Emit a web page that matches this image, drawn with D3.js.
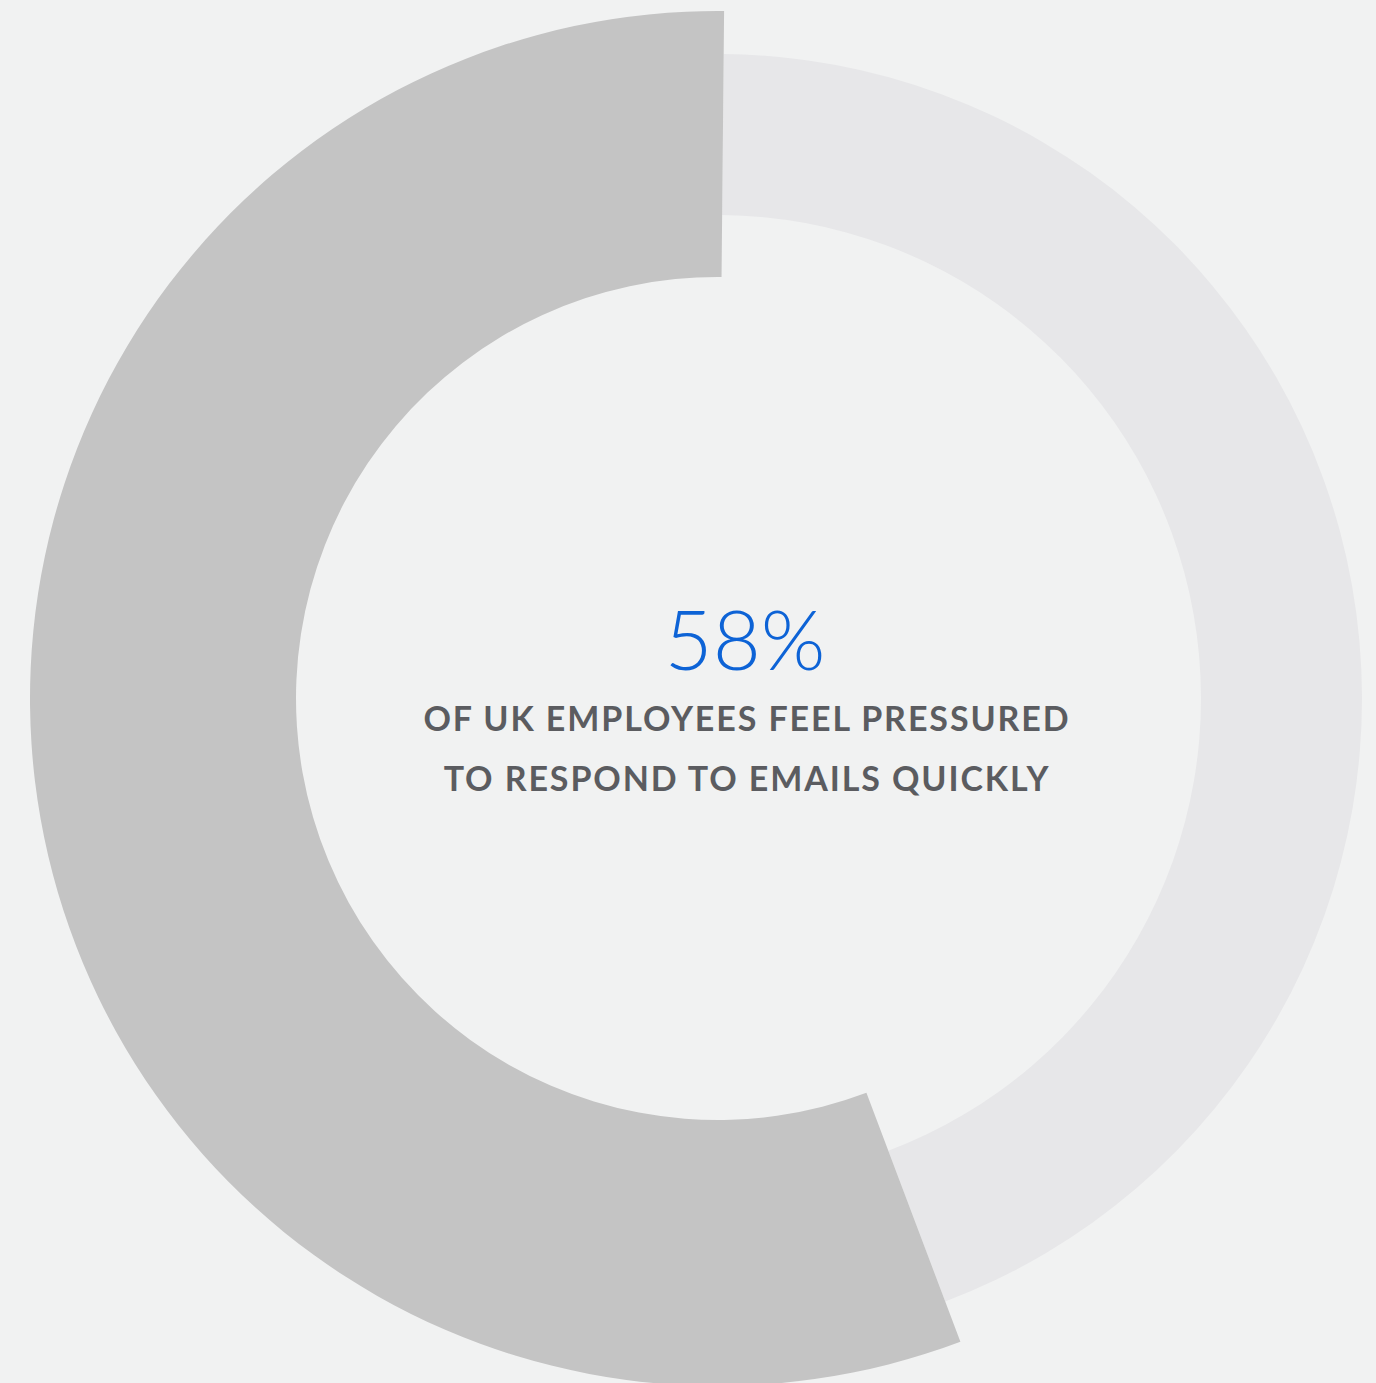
<!DOCTYPE html>
<html>
<head>
<meta charset="utf-8">
<script src="https://cdn.jsdelivr.net/npm/d3@7"></script>
<style>
  html, body { margin: 0; padding: 0; background: #f1f2f2; }
  svg { display: block; }
</style>
</head>
<body>
<script>
// ---- data ----
const categories = ["Do not feel pressured", "Feel pressured"];
const arcShares = [44.1, 55.9];          // shares of the ring as drawn in the picture
const headline = "58%";
const captionLines = ["OF UK EMPLOYEES FEEL PRESSURED", "TO RESPOND TO EMAILS QUICKLY"];

// ---- layout ----
const W = 1376, H = 1383;
const cx = 717.5, cy = 698.5;
const ringStyle = {
  "Do not feel pressured": { inner: 483.5, outer: 644.5, fill: "#e7e7e9" },
  "Feel pressured":        { inner: 421.5, outer: 687.5, fill: "#c4c4c4" }
};
const rot = 0.55 * Math.PI / 180;

const svg = d3.select("body").append("svg")
  .attr("width", W).attr("height", H);

svg.append("rect").attr("width", W).attr("height", H).attr("fill", "#f1f2f2");

const pie = d3.pie().sort(null).value(d => d.v)
  .startAngle(rot).endAngle(2 * Math.PI + rot);

const arcsData = pie(categories.map((c, i) => ({ c, v: arcShares[i] })));

const g = svg.append("g").attr("transform", `translate(${cx},${cy})`);

g.selectAll("path.slice")
  .data(arcsData)
  .join("path")
  .attr("class", "slice")
  .attr("fill", d => ringStyle[d.data.c].fill)
  .attr("d", d => d3.arc()
      .innerRadius(ringStyle[d.data.c].inner)
      .outerRadius(ringStyle[d.data.c].outer)(d));

// ---- text ----
svg.append("text")
  .attr("x", 745).attr("y", 670)
  .attr("text-anchor", "middle")
  .attr("font-family", "Lato, 'Open Sans', sans-serif")
  .attr("font-weight", 300)
  .attr("font-size", 83)
  .attr("fill", "#0d63d6")
  .text(headline);

svg.selectAll("text.cap")
  .data(captionLines)
  .join("text")
  .attr("class", "cap")
  .attr("x", 747)
  .attr("y", (d, i) => 731 + i * 60)
  .attr("text-anchor", "middle")
  .attr("font-family", "Lato, 'Open Sans', sans-serif")
  .attr("font-weight", 700)
  .attr("font-size", 34)
  .attr("letter-spacing", 1.9)
  .attr("fill", "#5b5c60")
  .text(d => d);
</script>
</body>
</html>
